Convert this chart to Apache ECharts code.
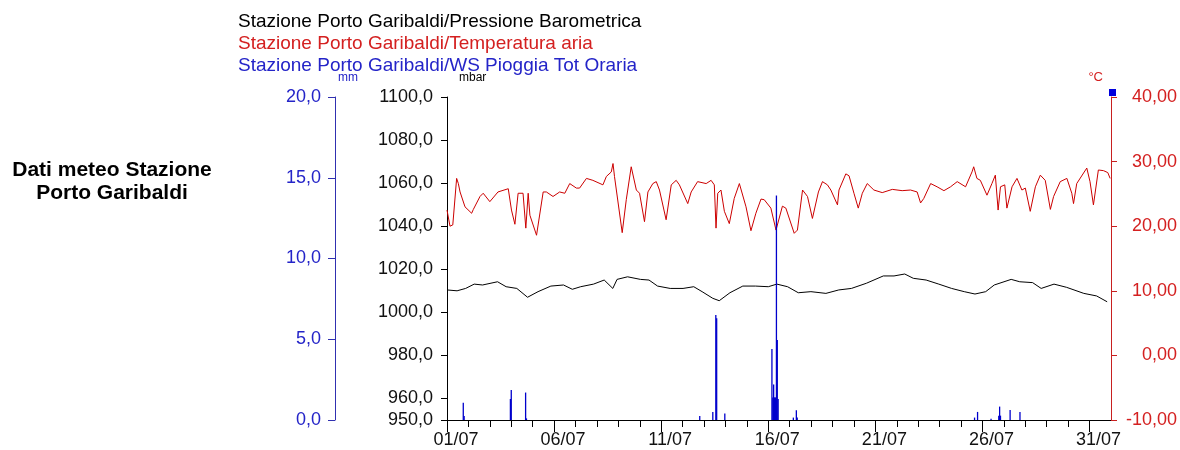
<!DOCTYPE html>
<html>
<head>
<meta charset="utf-8">
<script src="https://cdn.jsdelivr.net/npm/echarts@6/dist/echarts.min.js"></script>
<style>
html,body{margin:0;padding:0;background:#fff;}
#chart{width:1180px;height:450px;}
</style>
</head>
<body>
<div id="chart"></div>
<script>
// ---------------- DATA ----------------
const seriesNames = [
  'Stazione Porto Garibaldi/Pressione Barometrica',
  'Stazione Porto Garibaldi/Temperatura aria',
  'Stazione Porto Garibaldi/WS Pioggia Tot Oraria'
];
// x axis: days since 01/07 00:00
const dayTicks = [0,1,2,3,4,5,6,7,8,9,10,11,12,13,14,15,16,17,18,19,20,21,22,23,24,25,26,27,28,29,30];
const dateLabelDays = [0,5,10,15,20,25,30];
const dateLabels = ['01/07','06/07','11/07','16/07','21/07','26/07','31/07'];
const pressureTicks = [950,960,980,1000,1020,1040,1060,1080,1100];
const rainTicks = [0,5,10,15,20];
const tempTicks = [-10,0,10,20,30,40];

// [day, mbar]
const pressure = [[0,1010.4],[0.47,1010.0],[0.87,1011.1],[1.27,1013.1],[1.66,1012.7],[2.36,1014.2],[2.76,1011.9],
[3.26,1011.1],[3.76,1007.0],[4.25,1009.6],[4.85,1012.2],[5.44,1012.7],[5.85,1010.7],[6.24,1011.9],[6.84,1013.1],
[7.34,1015.0],[7.74,1011.1],[7.94,1015.3],[8.43,1016.5],[9.03,1015.3],[9.43,1015.0],[9.83,1012.2],[10.42,1011.1],
[11.02,1011.1],[11.52,1011.9],[11.91,1009.6],[12.41,1006.5],[12.71,1005.4],[13.21,1009.1],[13.81,1012.2],[14.40,1012.2],
[15.00,1011.9],[15.40,1013.1],[15.90,1011.9],[16.40,1009.1],[16.99,1009.6],[17.69,1008.8],[18.29,1010.4],[18.88,1011.1],
[19.58,1013.5],[20.37,1016.9],[20.87,1016.9],[21.37,1017.8],[21.77,1015.8],[22.37,1015.0],[22.96,1013.1],[23.56,1011.1],
[24.15,1009.6],[24.65,1008.5],[25.15,1009.6],[25.55,1012.7],[26.34,1015.3],[26.74,1014.2],[27.34,1013.8],[27.74,1011.1],
[28.34,1013.1],[28.93,1011.6],[29.73,1008.8],[30.33,1007.6],[30.82,1004.9]];

// [day, °C]
const temperature = [[0.00,22.5],[0.14,20.0],[0.27,20.2],[0.45,27.4],[0.53,26.6],[0.61,25.3],[0.84,23.0],[1.15,22.0],
[1.23,22.6],[1.54,24.6],[1.69,25.1],[2.00,23.8],[2.38,25.3],[2.86,25.8],[2.93,25.7],[3.01,22.5],[3.17,20.3],[3.32,25.1],
[3.55,25.1],[3.68,19.7],[3.79,25.1],[3.87,21.7],[4.18,18.6],[4.49,25.3],[4.64,25.3],[4.95,24.6],[5.26,25.3],[5.50,25.1],
[5.73,26.6],[6.04,25.9],[6.19,25.9],[6.51,27.4],[6.81,27.1],[7.28,26.4],[7.44,27.7],[7.67,28.4],[7.75,29.7],[7.82,27.7],
[8.18,19.0],[8.37,24.1],[8.60,29.2],[8.84,25.6],[8.99,25.1],[9.22,20.7],[9.38,25.3],[9.61,26.6],[9.77,26.9],[9.92,25.6],
[10.23,21.0],[10.47,26.4],[10.70,27.1],[10.85,26.4],[11.24,23.5],[11.40,25.3],[11.70,26.9],[12.10,26.6],[12.33,27.1],
[12.48,26.4],[12.56,19.7],[12.64,25.1],[12.79,25.6],[12.95,22.3],[13.18,20.4],[13.41,24.3],[13.65,26.6],[13.73,26.4],
[13.96,23.0],[14.19,19.3],[14.42,22.0],[14.66,24.2],[14.81,24.1],[15.12,22.8],[15.36,19.4],[15.43,19.2],[15.66,23.1],
[15.82,22.8],[16.21,18.9],[16.36,19.4],[16.60,25.6],[16.83,24.6],[17.06,21.2],[17.14,21.0],[17.34,25.3],[17.53,26.9],
[17.76,26.4],[17.92,25.6],[18.23,23.3],[18.30,25.6],[18.62,28.1],[18.77,27.8],[19.00,25.1],[19.20,22.8],[19.39,25.1],
[19.62,26.6],[19.93,25.6],[20.32,25.2],[20.79,25.7],[21.25,25.5],[21.64,25.6],[21.95,25.3],[22.11,23.6],[22.26,24.3],
[22.58,26.6],[22.88,26.1],[23.20,25.5],[23.51,26.1],[23.82,26.9],[24.21,26.1],[24.51,28.4],[24.59,29.2],[24.74,27.4],
[24.90,27.1],[25.21,24.8],[25.44,26.6],[25.60,27.9],[25.73,22.5],[25.84,26.1],[26.04,26.4],[26.14,22.8],[26.38,26.1],
[26.61,27.4],[26.84,25.6],[27.00,25.9],[27.23,22.3],[27.47,26.1],[27.70,27.9],[27.93,27.1],[28.17,22.6],[28.32,24.6],
[28.63,26.9],[28.94,27.4],[29.17,25.1],[29.25,23.5],[29.40,26.6],[29.87,29.0],[30.02,26.9],[30.18,23.3],[30.41,28.7],
[30.65,28.6],[30.85,28.3],[30.96,27.4]];

// [day, mm] hourly rain
const rain = [[0.76,1.07],[0.80,0.25],[2.96,1.3],[3.00,1.85],[3.67,1.7],[3.71,0.1],[11.80,0.25],[12.41,0.5],
[12.55,6.5],[12.59,6.3],[12.97,0.4],[15.17,4.4],[15.21,1.4],[15.25,2.2],[15.29,1.4],[15.33,1.4],[15.38,13.9],
[15.42,4.95],[15.46,1.3],[16.17,0.15],[16.31,0.6],[16.35,0.15],[24.63,0.15],[24.77,0.5],[25.40,0.08],[25.76,0.27],
[25.80,0.83],[25.84,0.27],[26.29,0.62],[26.75,0.5]];

// ---------------- CHART ----------------
const FONT = 'Liberation Sans, Arial, sans-serif';
const BLUE = '#2424c8', RED = '#d42020', BLACK = '#111';
const comma = (v, d) => v.toFixed(d).replace('.', ',');

const chart = echarts.init(document.getElementById('chart'), null, {renderer: 'canvas'});
chart.setOption({
  backgroundColor: '#fff',
  animation: false,
  textStyle: {fontFamily: FONT},
  legend: {
    orient: 'vertical', left: 228, top: 6, itemGap: 0,
    icon: 'rect', itemWidth: 0, itemHeight: 0, selectedMode: false,
    textStyle: {fontSize: 19, lineHeight: 22, fontFamily: FONT},
    data: [
      {name: seriesNames[0], textStyle: {color: '#000'}},
      {name: seriesNames[1], textStyle: {color: RED}},
      {name: seriesNames[2], textStyle: {color: BLUE}}
    ]
  },
  graphic: [
    {type: 'text', x: 112, y: 182, style: {text: 'Dati meteo Stazione\nPorto Garibaldi', align: 'center',
      verticalAlign: 'middle', fontSize: 21, fontWeight: 'bold', lineHeight: 23, fontFamily: FONT, fill: '#000'}},
    {type: 'rect', shape: {x: 1109, y: 89, width: 7, height: 7}, style: {fill: '#0000dd'}}
  ],
  grid: {left: 447, right: 67, top: 97, bottom: 30, containLabel: false},
  xAxis: [
    {type: 'value', min: 0, max: 31, position: 'bottom',
      axisLine: {show: true, onZero: false, lineStyle: {color: '#000', width: 1}},
      axisTick: {show: true, customValues: dayTicks, length: 7, lineStyle: {color: '#000'}},
      axisLabel: {show: false}, splitLine: {show: false}},
    {type: 'value', min: 0, max: 31, position: 'bottom',
      axisLine: {show: false, onZero: false},
      axisTick: {show: true, customValues: dateLabelDays, length: 12, lineStyle: {color: '#000'}},
      axisLabel: {show: true, customValues: dateLabelDays, fontSize: 18, color: BLACK, margin: 11,
        padding: [0, 0, 0, 18], fontFamily: FONT,
        formatter: v => dateLabels[dateLabelDays.indexOf(Math.round(v))] || ''},
      splitLine: {show: false}}
  ],
  yAxis: [
    {type: 'value', position: 'left', min: 950, max: 1100,
      name: 'mbar', nameLocation: 'end', nameGap: 19,
      nameTextStyle: {fontSize: 12, color: '#000', align: 'left', verticalAlign: 'middle', padding: [0, 0, 0, 12]},
      axisLine: {show: true, onZero: false, lineStyle: {color: '#000'}},
      axisTick: {show: true, customValues: pressureTicks, length: 6, lineStyle: {color: '#000'}},
      axisLabel: {customValues: pressureTicks, fontSize: 18, color: BLACK, margin: 14, formatter: v => comma(v, 1)},
      splitLine: {show: false}},
    {type: 'value', position: 'left', offset: 112, min: 0, max: 20, interval: 5,
      name: 'mm', nameLocation: 'end', nameGap: 19,
      nameTextStyle: {fontSize: 12, color: BLUE, align: 'left', verticalAlign: 'middle', padding: [0, 0, 0, 3]},
      axisLine: {show: true, onZero: false, lineStyle: {color: '#3030b0'}},
      axisTick: {show: true, customValues: rainTicks, length: 7, lineStyle: {color: '#3030b0'}},
      axisLabel: {customValues: rainTicks, fontSize: 18, color: BLUE, margin: 14, formatter: v => comma(v, 1)},
      splitLine: {show: false}},
    {type: 'value', position: 'right', min: -10, max: 40, interval: 10,
      name: '°C', nameLocation: 'end', nameGap: 20,
      nameTextStyle: {fontSize: 13, color: RED, align: 'right', verticalAlign: 'middle', padding: [0, 8, 0, 0]},
      axisLine: {show: true, onZero: false, lineStyle: {color: '#c82020'}},
      axisTick: {show: true, customValues: tempTicks, length: 6, lineStyle: {color: '#c82020'}},
      axisLabel: {customValues: tempTicks, fontSize: 18, color: RED, margin: 66, align: 'right', formatter: v => comma(v, 2)},
      splitLine: {show: false}}
  ],
  series: [
    {name: seriesNames[0], type: 'line', xAxisIndex: 0, yAxisIndex: 0, data: pressure,
      showSymbol: false, symbol: 'none', lineStyle: {color: '#000', width: 1}, itemStyle: {color: '#000'}, z: 2},
    {name: seriesNames[1], type: 'line', xAxisIndex: 0, yAxisIndex: 2, data: temperature,
      showSymbol: false, symbol: 'none', lineStyle: {color: '#cc0000', width: 1}, itemStyle: {color: RED}, z: 2},
    {name: seriesNames[2], type: 'bar', xAxisIndex: 0, yAxisIndex: 1, data: rain,
      barWidth: 1.3, itemStyle: {color: '#0000cc'}, z: 3}
  ]
});
</script>
</body>
</html>
